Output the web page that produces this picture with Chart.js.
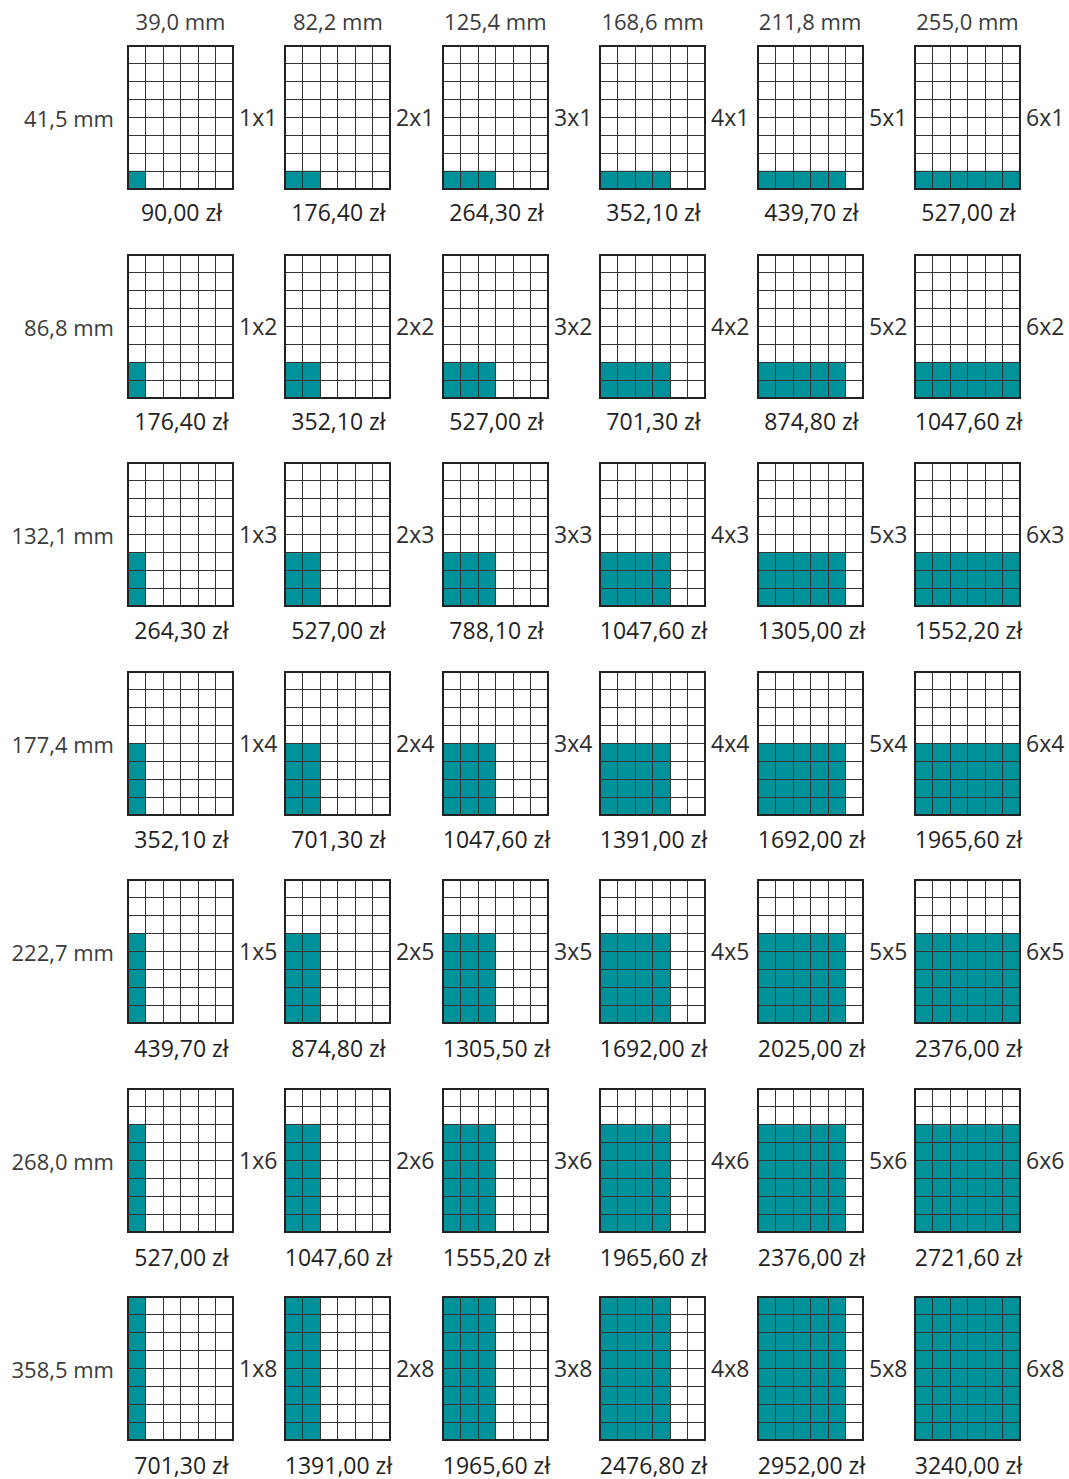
<!DOCTYPE html>
<html lang="pl">
<head>
<meta charset="UTF-8">
<title>Cennik modułów</title>
<script src="https://cdn.jsdelivr.net/npm/chart.js"></script>
<style>
    body {
        margin: 0;
        background: #fff;
        font-family: "Open Sans", sans-serif;
        color: #333;
    }
    #board {
        position: relative;
        width: 1069px;
        height: 1479px;
        overflow: hidden;
    }
    .panel { position: absolute; }
    .lbl {
        position: absolute;
        white-space: nowrap;
        line-height: 26px;
    }
    .col-head { transform: translateX(-50%); color: #3c3c3c; font-size: 22px; }
    .row-head { transform: translate(-100%, -50%); color: #3c3c3c; font-size: 22px; }
    .dim { transform: translateY(-50%); color: #2e2e2e; font-size: 23px; }
    .price { transform: translate(-50%, -50%); color: #222; font-size: 23px; }
</style>
</head>
<body>
<div id="board"></div>
<script>
    // widths of the module columns (mm)
    const colWidths = ['39,0', '82,2', '125,4', '168,6', '211,8', '255,0'];
    // heights of the module rows (mm)
    const rowHeights = ['41,5', '86,8', '132,1', '177,4', '222,7', '268,0', '358,5'];
    const colUnits = [1, 2, 3, 4, 5, 6];
    const rowUnits = [1, 2, 3, 4, 5, 6, 8];
    const gridCols = ['1', '2', '3', '4', '5', '6'];
    const gridMax = 8;

    // prices in zł, one array per row
    const prices1 = [90.00, 176.40, 264.30, 352.10, 439.70, 527.00];
    const prices2 = [176.40, 352.10, 527.00, 701.30, 874.80, 1047.60];
    const prices3 = [264.30, 527.00, 788.10, 1047.60, 1305.00, 1552.20];
    const prices4 = [352.10, 701.30, 1047.60, 1391.00, 1692.00, 1965.60];
    const prices5 = [439.70, 874.80, 1305.50, 1692.00, 2025.00, 2376.00];
    const prices6 = [527.00, 1047.60, 1555.20, 1965.60, 2376.00, 2721.60];
    const prices7 = [701.30, 1391.00, 1965.60, 2476.80, 2952.00, 3240.00];
    const prices = [prices1, prices2, prices3, prices4, prices5, prices6, prices7];

    const teal = '#00929a';
    const board = document.getElementById('board');

    // layout
    const left0 = 128, top0 = 46, pitchX = 157.4, pitchY = 208.5;
    const pw = 105, ph = 143;

    function addLabel(cls, text, x, y) {
        const d = document.createElement('div');
        d.className = 'lbl ' + cls;
        d.textContent = text;
        d.style.left = x + 'px';
        d.style.top = y + 'px';
        board.appendChild(d);
    }

    function fmt(v) {
        return v.toFixed(2).replace('.', ',') + ' zł';
    }

    colWidths.forEach((w, c) => {
        addLabel('col-head', w + ' mm', left0 + c * pitchX + pw / 2, 8);
    });

    rowHeights.forEach((h, r) => {
        const top = Math.round(top0 + r * pitchY);
        addLabel('row-head', h + ' mm', 114, top + 72);

        colUnits.forEach((cu, c) => {
            const left = Math.round(left0 + c * pitchX);
            const wrap = document.createElement('div');
            wrap.className = 'panel';
            wrap.style.left = (left - 2) + 'px';
            wrap.style.top = (top - 2) + 'px';
            const cv = document.createElement('canvas');
            cv.width = pw + 4;
            cv.height = ph + 4;
            wrap.appendChild(cv);
            board.appendChild(wrap);

            const vals = gridCols.map((g, i) => i < cu ? rowUnits[r] : 0);

            new Chart(cv, {
                type: 'bar',
                data: {
                    labels: gridCols,
                    datasets: [{
                        data: vals,
                        backgroundColor: teal,
                        borderWidth: 0,
                        barPercentage: 1,
                        categoryPercentage: 1
                    }]
                },
                options: {
                    responsive: false,
                    animation: false,
                    events: [],
                    layout: { padding: 2 },
                    plugins: { legend: { display: false }, tooltip: { enabled: false } },
                    scales: {
                        x: {
                            grid: { z: 1, color: '#333', lineWidth: 1, drawTicks: false, offset: true },
                            ticks: { display: false },
                            border: { z: 1, color: '#222', width: 2 }
                        },
                        y: {
                            min: 0,
                            max: gridMax,
                            grid: { z: 1, color: '#333', lineWidth: 1, drawTicks: false },
                            ticks: { display: false, stepSize: 1 },
                            border: { z: 1, color: '#222', width: 2 }
                        }
                    }
                },
                plugins: [{
                    // close the box on the top and right edges
                    id: 'frame',
                    afterDraw(chart) {
                        const a = chart.chartArea, ctx = chart.ctx;
                        ctx.save();
                        ctx.strokeStyle = '#222';
                        ctx.lineWidth = 2;
                        ctx.strokeRect(a.left, a.top, a.right - a.left, a.bottom - a.top);
                        ctx.restore();
                    }
                }]
            });

            addLabel('dim', cu + 'x' + rowUnits[r], left + pw + 6, top + 71);
            addLabel('price', fmt(prices[r][c]), left + pw / 2 + 1, top + 166 + r * 0.4);
        });
    });
</script>
</body>
</html>
